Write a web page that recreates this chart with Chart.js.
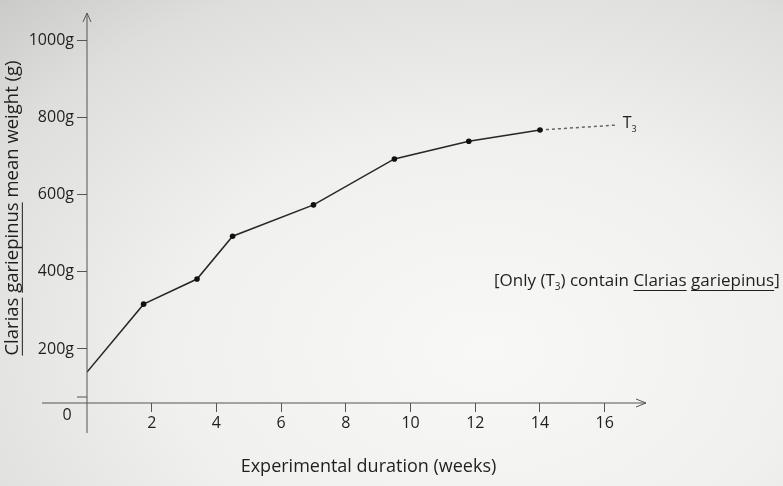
<!DOCTYPE html>
<html>
<head>
<meta charset="utf-8">
<script src="https://cdn.jsdelivr.net/npm/chart.js@4.4.0/dist/chart.umd.min.js"></script>
<style>
  html, body { margin: 0; padding: 0; }
  body {
    width: 783px; height: 486px; overflow: hidden;
    background: radial-gradient(ellipse 90% 100% at 62% 72%, #f8f8f7 0%, #f0f0ee 45%, #dededc 80%, #cacac8 100%);
  }
  #wrap { position: relative; width: 783px; height: 486px; }
</style>
</head>
<body>
<div id="wrap"><canvas id="growthChart"></canvas></div>
<script>
// T3 growth curve
const weeks = [0, 1.75, 3.4, 4.5, 7.0, 9.5, 11.8, 14.0, 16.4];
const meanWeight = [140, 316, 381, 492, 573, 692, 738, 767, 780];
const markerSize = [0, 2.8, 2.8, 2.8, 2.8, 2.8, 2.8, 2.8, 0];
const xTicks = [2, 4, 6, 8, 10, 12, 14, 16];
const yTicks = [200, 400, 600, 800, 1000];

const FONT = "'Open Sans', 'DejaVu Sans', sans-serif";
const INK = '#1f1f1f';

// draws things the scales can't: axis lines with arrows, origin "0",
// underlines in the y title, the T3 tag and the note
const sketchPlugin = {
    id: 'sketch',
    afterDraw(chart) {
        const ctx = chart.ctx;
        const area = chart.chartArea;
        const x = chart.scales.x;
        const y = chart.scales.y;
        const x0 = x.getPixelForValue(0);
        const yBase = area.bottom;

        ctx.save();
        ctx.strokeStyle = '#555555';
        ctx.lineWidth = 1;

        // y axis, running a bit below the x axis
        ctx.beginPath();
        ctx.moveTo(x0, yBase + 30);
        ctx.lineTo(x0, area.top);
        ctx.stroke();
        ctx.beginPath();
        ctx.moveTo(x0 - 4, area.top + 9);
        ctx.lineTo(x0, area.top);
        ctx.lineTo(x0 + 4, area.top + 9);
        ctx.stroke();

        // x axis, starting left of the y axis
        const xEnd = area.right - 4;
        ctx.beginPath();
        ctx.moveTo(42, yBase);
        ctx.lineTo(xEnd, yBase);
        ctx.stroke();
        ctx.beginPath();
        ctx.moveTo(xEnd - 10, yBase - 4);
        ctx.lineTo(xEnd, yBase);
        ctx.lineTo(xEnd - 10, yBase + 4);
        ctx.stroke();

        // stray short tick just above the x axis
        ctx.beginPath();
        ctx.moveTo(x0 - 10, yBase - 6);
        ctx.lineTo(x0, yBase - 6);
        ctx.stroke();

        ctx.fillStyle = INK;
        ctx.font = '16px ' + FONT;
        ctx.textAlign = 'center';
        ctx.textBaseline = 'middle';
        ctx.fillText('0', 67, yBase + 12);

        // underline "Clarias" and "gariepinus" in the y title
        const t = y.options.title;
        ctx.font = t.font.size + 'px ' + FONT;
        const total = ctx.measureText(t.text).width;
        const tx = y.left + t.font.size * 1.2 / 2 + t.padding.top;
        const midY = (y.top + y.bottom) / 2;
        const startY = midY + total / 2;
        const uX = tx + t.font.size * 0.5;
        const wC = ctx.measureText('Clarias').width;
        const wCg = ctx.measureText('Clarias ').width;
        const wG = ctx.measureText('gariepinus').width;
        ctx.strokeStyle = INK;
        ctx.beginPath();
        ctx.moveTo(uX, startY);
        ctx.lineTo(uX, startY - wC);
        ctx.moveTo(uX, startY - wCg);
        ctx.lineTo(uX, startY - wCg - wG);
        ctx.stroke();

        // T3 tag at the end of the curve
        const last = weeks.length - 1;
        const ex = x.getPixelForValue(weeks[last]);
        const ey = y.getPixelForValue(meanWeight[last]);
        ctx.textAlign = 'left';
        ctx.textBaseline = 'alphabetic';
        ctx.font = '16px ' + FONT;
        ctx.fillText('T', ex + 5, ey + 3);
        const tw = ctx.measureText('T').width;
        ctx.font = '9px ' + FONT;
        ctx.fillText('3', ex + 5 + tw, ey + 7);

        // the note
        let nx = 494;
        const ny = 286;
        const parts = [
            ['[Only (T', false, 17, 0],
            ['3', false, 10, 4],
            [') contain ', false, 17, 0],
            ['Clarias', true, 17, 0],
            [' ', false, 17, 0],
            ['gariepinus', true, 17, 0],
            [']', false, 17, 0]
        ];
        parts.forEach(p => {
            ctx.font = p[2] + 'px ' + FONT;
            ctx.fillText(p[0], nx, ny + p[3]);
            const w = ctx.measureText(p[0]).width;
            if (p[1]) {
                ctx.beginPath();
                ctx.moveTo(nx, ny + 4.5);
                ctx.lineTo(nx + w, ny + 4.5);
                ctx.stroke();
            }
            nx += w;
        });
        ctx.restore();
    }
};

function initGrowthChart() {
    const ctx = document.getElementById('growthChart').getContext('2d');

    const data = {
        datasets: [{
            label: 'T3',
            data: weeks.map((w, i) => ({ x: w, y: meanWeight[i] })),
            borderColor: '#262626',
            borderWidth: 1.5,
            pointRadius: markerSize,
            pointBackgroundColor: '#111111',
            pointBorderWidth: 0,
            tension: 0,
            segment: {
                borderDash: c => c.p1DataIndex === weeks.length - 1 ? [3, 3] : undefined,
                borderColor: c => c.p1DataIndex === weeks.length - 1 ? '#666666' : undefined
            }
        }]
    };

    const config = {
        type: 'line',
        data: data,
        options: {
            responsive: true,
            maintainAspectRatio: false,
            animation: false,
            layout: { padding: { top: 13, right: 133, left: 0, bottom: 0 } },
            plugins: { legend: { display: false }, tooltip: { enabled: false } },
            scales: {
                x: {
                    type: 'linear',
                    min: 0,
                    max: 17.4,
                    afterBuildTicks: s => { s.ticks = xTicks.map(v => ({ value: v })); },
                    afterFit: s => { s.height = 83; },
                    border: { display: false },
                    grid: { drawOnChartArea: false, tickLength: 9, color: '#555555' },
                    ticks: { color: INK, font: { family: FONT, size: 16 }, padding: 2 },
                    title: {
                        display: true,
                        text: 'Experimental duration (weeks)',
                        color: INK,
                        font: { family: FONT, size: 18 },
                        padding: { top: 0, bottom: 8 }
                    }
                },
                y: {
                    min: 60,
                    max: 1070,
                    afterBuildTicks: s => { s.ticks = yTicks.map(v => ({ value: v })); },
                    afterFit: s => { s.width = 87; },
                    border: { display: false },
                    grid: { drawOnChartArea: false, tickLength: 10, color: '#555555' },
                    ticks: {
                        color: INK,
                        font: { family: FONT, size: 16 },
                        padding: 3,
                        callback: v => v + 'g'
                    },
                    title: {
                        display: true,
                        text: 'Clarias gariepinus mean weight (g)',
                        color: INK,
                        font: { family: FONT, size: 18.5 },
                        padding: { top: 2, bottom: 0 }
                    }
                }
            }
        },
        plugins: [sketchPlugin]
    };

    new Chart(ctx, config);
}

document.addEventListener('DOMContentLoaded', () => {
    initGrowthChart();
});
</script>
</body>
</html>
